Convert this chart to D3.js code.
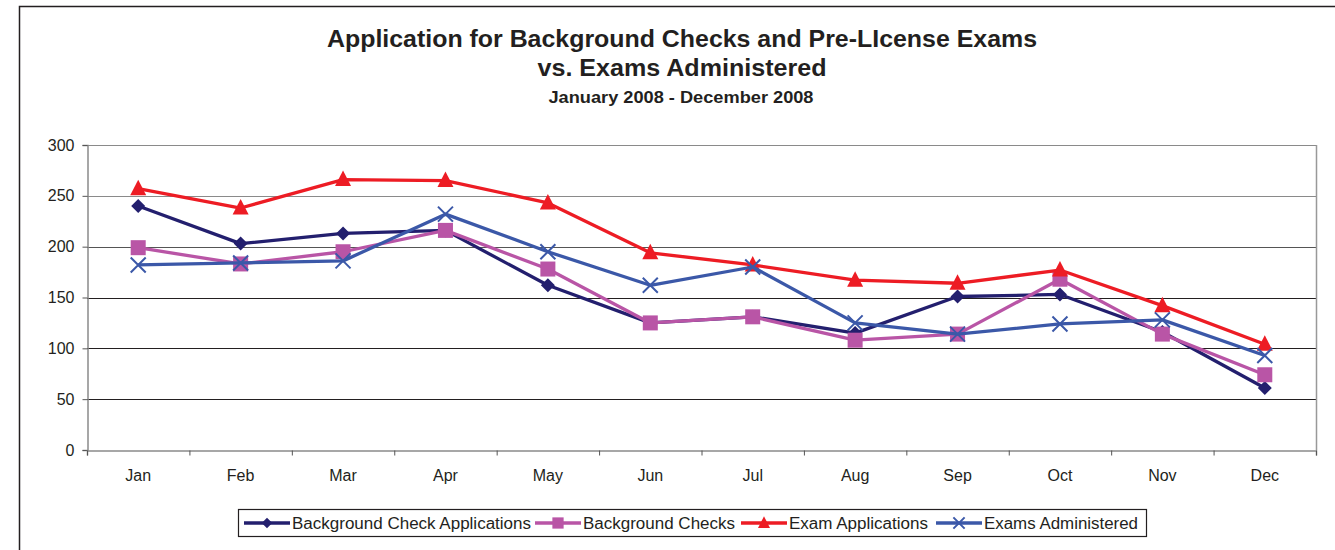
<!DOCTYPE html>
<html><head><meta charset="utf-8">
<script src="https://cdn.jsdelivr.net/npm/d3@7"></script>
<style>body{margin:0;background:#fff}svg{display:block;font-family:"Liberation Sans",Arial,sans-serif}</style>
</head><body><svg id="c" width="1335" height="550"></svg>
<script>
const months = ["Jan","Feb","Mar","Apr","May","Jun","Jul","Aug","Sep","Oct","Nov","Dec"];
const bgCheckApps = [240,203,213,216,162,125,131,115,151,153,116,61];
const bgChecks    = [199,183,195,216,178,125,131,108,114,168,114,74];
const examApps    = [257,238,266,265,243,194,182,167,164,177,142,104];
const examsAdmin  = [182,184,186,232,195,162,180,125,114,124,128,93];
const yTicks = [0,50,100,150,200,250,300];
const titleLines = ["Application for Background Checks and Pre-LIcense Exams","vs. Exams Administered"];
const subtitle = "January 2008 - December 2008";

const series = [
  {name:"Background Check Applications", values:bgCheckApps, color:"#231f6e", marker:"diamond"},
  {name:"Background Checks", values:bgChecks, color:"#b955a6", marker:"square"},
  {name:"Exam Applications", values:examApps, color:"#ed1c24", marker:"triangle"},
  {name:"Exams Administered", values:examsAdmin, color:"#3b58a8", marker:"x"}
];

const svg = d3.select("#c");
const L=87, R=1316, T=145, B=450;

// outer frame
svg.append("rect").attr("x",19.5).attr("y",6.5).attr("width",1400).attr("height",700)
  .attr("fill","none").attr("stroke","#231f20").attr("stroke-width",1.5);

// titles
svg.append("text").attr("x",682).attr("y",47).attr("text-anchor","middle")
  .attr("font-size",23).attr("font-weight","bold").attr("fill","#231f20")
  .attr("textLength",710).attr("lengthAdjust","spacingAndGlyphs").text(titleLines[0]);
svg.append("text").attr("x",682).attr("y",76).attr("text-anchor","middle")
  .attr("font-size",23).attr("font-weight","bold").attr("fill","#231f20")
  .attr("textLength",289).attr("lengthAdjust","spacingAndGlyphs").text(titleLines[1]);
svg.append("text").attr("x",681).attr("y",103).attr("text-anchor","middle")
  .attr("font-size",16).attr("font-weight","bold").attr("fill","#231f20")
  .attr("textLength",265).attr("lengthAdjust","spacingAndGlyphs").text(subtitle);

const x = d3.scaleBand().domain(months).range([L,R]).padding(0);
const xEdge = d3.scaleLinear().domain([0,12]).range([L,R]);
const y = d3.scaleLinear().domain([0,300]).range([B,T]);
const cx = m => x(m)+x.bandwidth()/2;

// gridlines
svg.append("g").selectAll("line").data(yTicks.filter(v=>v>0)).join("line")
  .attr("x1",L).attr("x2",R).attr("y1",d=>Math.round(y(d))+0.5).attr("y2",d=>Math.round(y(d))+0.5)
  .attr("stroke",d=>d>=250?"#8a8a8a":(d==200?"#555":"#231f20")).attr("stroke-width",1.2);
// right border
svg.append("line").attr("x1",R+0.5).attr("x2",R+0.5).attr("y1",T).attr("y2",B)
  .attr("stroke","#999").attr("stroke-width",1.5);

// y axis
const ya = svg.append("g").attr("transform",`translate(${L+0.5},0)`)
  .call(d3.axisLeft(y).tickValues(yTicks).tickSize(5).tickPadding(8));
ya.select(".domain").attr("stroke","#8a8a8a").attr("stroke-width",1.5);
ya.selectAll(".tick line").attr("stroke","#555");
ya.selectAll("text").attr("font-size",16).attr("fill","#231f20").attr("font-family","Liberation Sans, Arial, sans-serif");

// x axis ticks at edges
const xa = svg.append("g").attr("transform",`translate(0,${B+0.5})`)
  .call(d3.axisBottom(xEdge).ticks(12).tickSize(5).tickFormat(""));
xa.select(".domain").attr("stroke","#8a8a8a").attr("stroke-width",1.5);
xa.selectAll(".tick line").attr("stroke","#555");
// x labels
const xl = svg.append("g").attr("transform",`translate(0,${B})`)
  .call(d3.axisBottom(x).tickSize(0).tickPadding(20));
xl.select(".domain").remove();
xl.selectAll("text").attr("font-size",16).attr("fill","#231f20").attr("font-family","Liberation Sans, Arial, sans-serif");

function drawMarker(g, type, color, px, py, k){
  k = k||1;
  if(type==="diamond"){
    const r=7*k;
    g.append("path").attr("d",`M${px},${py-r}L${px+r},${py}L${px},${py+r}L${px-r},${py}Z`).attr("fill",color);
  } else if(type==="square"){
    const h=7.5*k;
    g.append("rect").attr("x",px-h).attr("y",py-h).attr("width",2*h).attr("height",2*h).attr("fill",color);
  } else if(type==="triangle"){
    g.append("path").attr("d",`M${px},${py-9*k}L${px+8*k},${py+6.5*k}L${px-8*k},${py+6.5*k}Z`).attr("fill",color);
  } else {
    const h=7.5*k;
    g.append("path").attr("d",`M${px-h},${py-h}L${px+h},${py+h}M${px+h},${py-h}L${px-h},${py+h}`)
      .attr("stroke",color).attr("stroke-width",2).attr("fill","none");
  }
}

const line = d3.line().x((d,i)=>cx(months[i])).y(d=>y(d));
series.forEach(s=>{
  const g = svg.append("g");
  g.append("path").datum(s.values).attr("d",line).attr("fill","none")
    .attr("stroke",s.color).attr("stroke-width",3.3).attr("stroke-linejoin","round");
  s.values.forEach((v,i)=>drawMarker(g,s.marker,s.color,cx(months[i]),y(v)));
});

// legend
const lg = svg.append("g");
lg.append("rect").attr("x",238.5).attr("y",509.5).attr("width",908).attr("height",27)
  .attr("fill","#fff").attr("stroke","#231f20").attr("stroke-width",1.2);
const legX = [244,535,741,936];
const legW = [239,152,139,154];
series.forEach((s,i)=>{
  const x0 = legX[i], yy = 523;
  lg.append("line").attr("x1",x0).attr("x2",x0+46).attr("y1",yy).attr("y2",yy)
    .attr("stroke",s.color).attr("stroke-width",3.3);
  drawMarker(lg,s.marker,s.color,x0+23,yy,0.75);
  lg.append("text").attr("x",x0+48).attr("y",yy+5.8).attr("font-size",16).attr("fill","#231f20")
    .attr("textLength",legW[i]).attr("lengthAdjust","spacingAndGlyphs").text(s.name);
});
</script></body></html>
